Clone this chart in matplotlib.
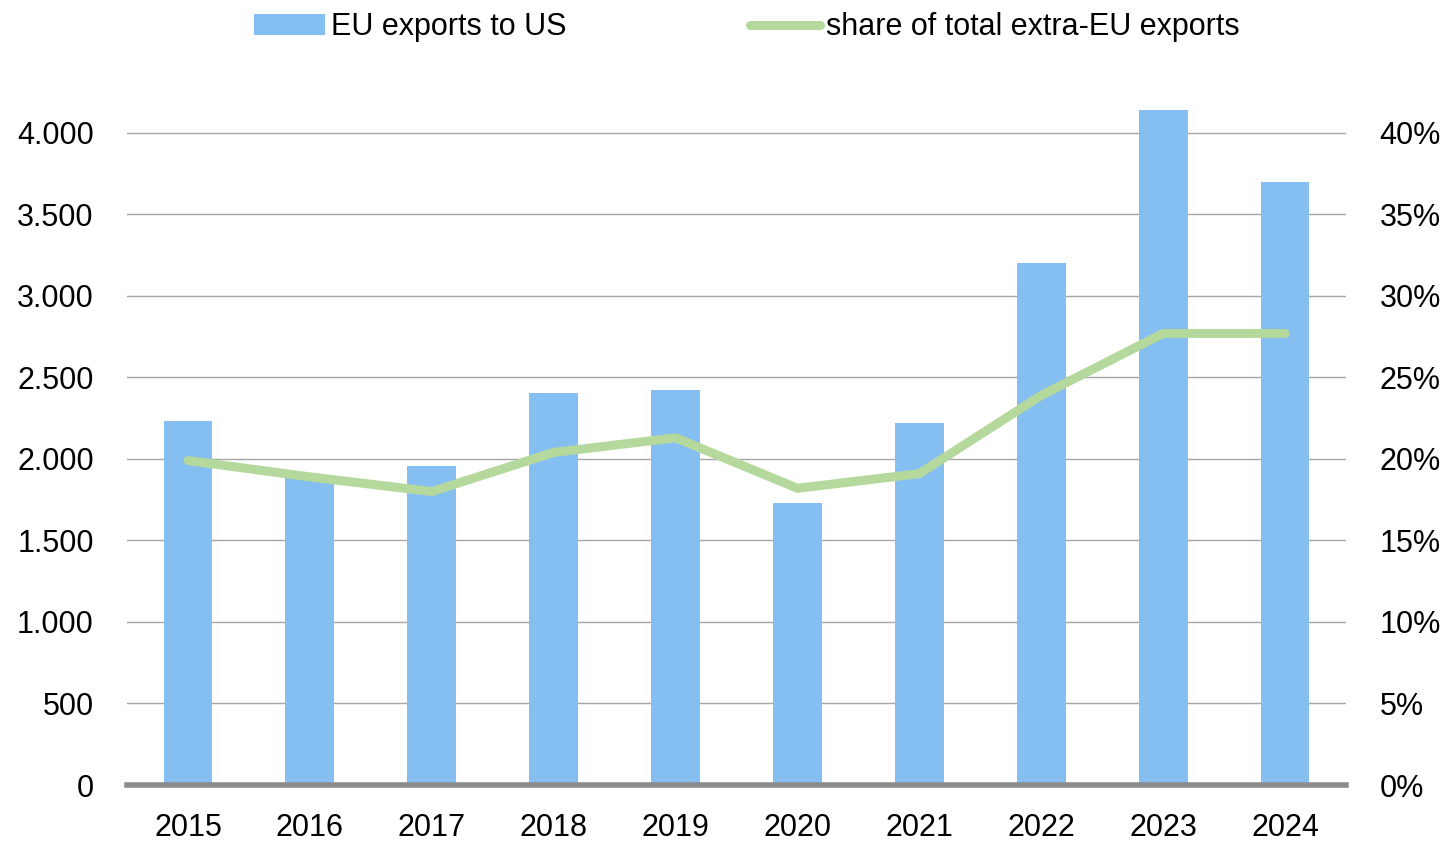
import numpy as np
import matplotlib.pyplot as plt
from matplotlib.ticker import FuncFormatter

plt.rcParams['font.family'] = ['Liberation Sans', 'DejaVu Sans']

years = ['2015', '2016', '2017', '2018', '2019', '2020', '2021', '2022', '2023', '2024']
exports_us = [2233, 1890, 1957, 2405, 2423, 1730, 2221, 3202, 4141, 3699]
share_pct = [19.9, 18.9, 18.0, 20.4, 21.3, 18.2, 19.1, 23.9, 27.7, 27.7]
left_ticks = [0, 500, 1000, 1500, 2000, 2500, 3000, 3500, 4000]
right_ticks = [0, 5, 10, 15, 20, 25, 30, 35, 40]

BAR_COLOR = '#85BEF0'
LINE_COLOR = '#B5D99C'
FS = 22

fig = plt.figure(figsize=(14.45, 8.43), dpi=100)
ax = fig.add_axes([0.0879, 0.0688, 0.8436, 0.8702])
x = np.arange(len(years))

ax.set_axisbelow(True)
for t in left_ticks[1:]:
    ax.axhline(t, color='#A6A6A6', lw=1.0, zorder=0)
bars = ax.bar(x, exports_us, width=0.4, color=BAR_COLOR, zorder=2, label='EU exports to US')
ax.set_xlim(-0.5, len(years) - 0.5)
ax.set_ylim(0, 4500)
ax.set_yticks(left_ticks)
ax.yaxis.set_major_formatter(FuncFormatter(lambda v, p: f'{int(v):,}'.replace(',', '.')))
ax.set_xticks(x)
ax.set_xticklabels(years)

for s in ['top', 'right', 'left']:
    ax.spines[s].set_visible(False)
ax.spines['bottom'].set_color('#8C8C8C')
ax.spines['bottom'].set_linewidth(4)
ax.spines['bottom'].set_zorder(5)
ax.tick_params(axis='both', length=0, labelsize=FS, colors='black')
ax.tick_params(axis='x', pad=20)
ax.tick_params(axis='y', pad=24)

ax2 = ax.twinx()
line, = ax2.plot(x, share_pct, color=LINE_COLOR, lw=6.5, solid_capstyle='round',
                 solid_joinstyle='round', zorder=3, label='share of total extra-EU exports')
ax2.set_ylim(0, 45)
ax2.set_yticks(right_ticks)
ax2.yaxis.set_major_formatter(FuncFormatter(lambda v, p: f'{int(v)}%'))
for s in ['top', 'right', 'left', 'bottom']:
    ax2.spines[s].set_visible(False)
ax2.tick_params(axis='y', length=0, labelsize=FS, pad=24)

fig.legend([bars, line], ['EU exports to US', 'share of total extra-EU exports'],
           loc='upper center', bbox_to_anchor=(0.517, 1.018), ncol=2, frameon=False,
           fontsize=FS, handlelength=2.3, handletextpad=0.2, columnspacing=6.0)

fig.savefig('out.png', dpi=100)
